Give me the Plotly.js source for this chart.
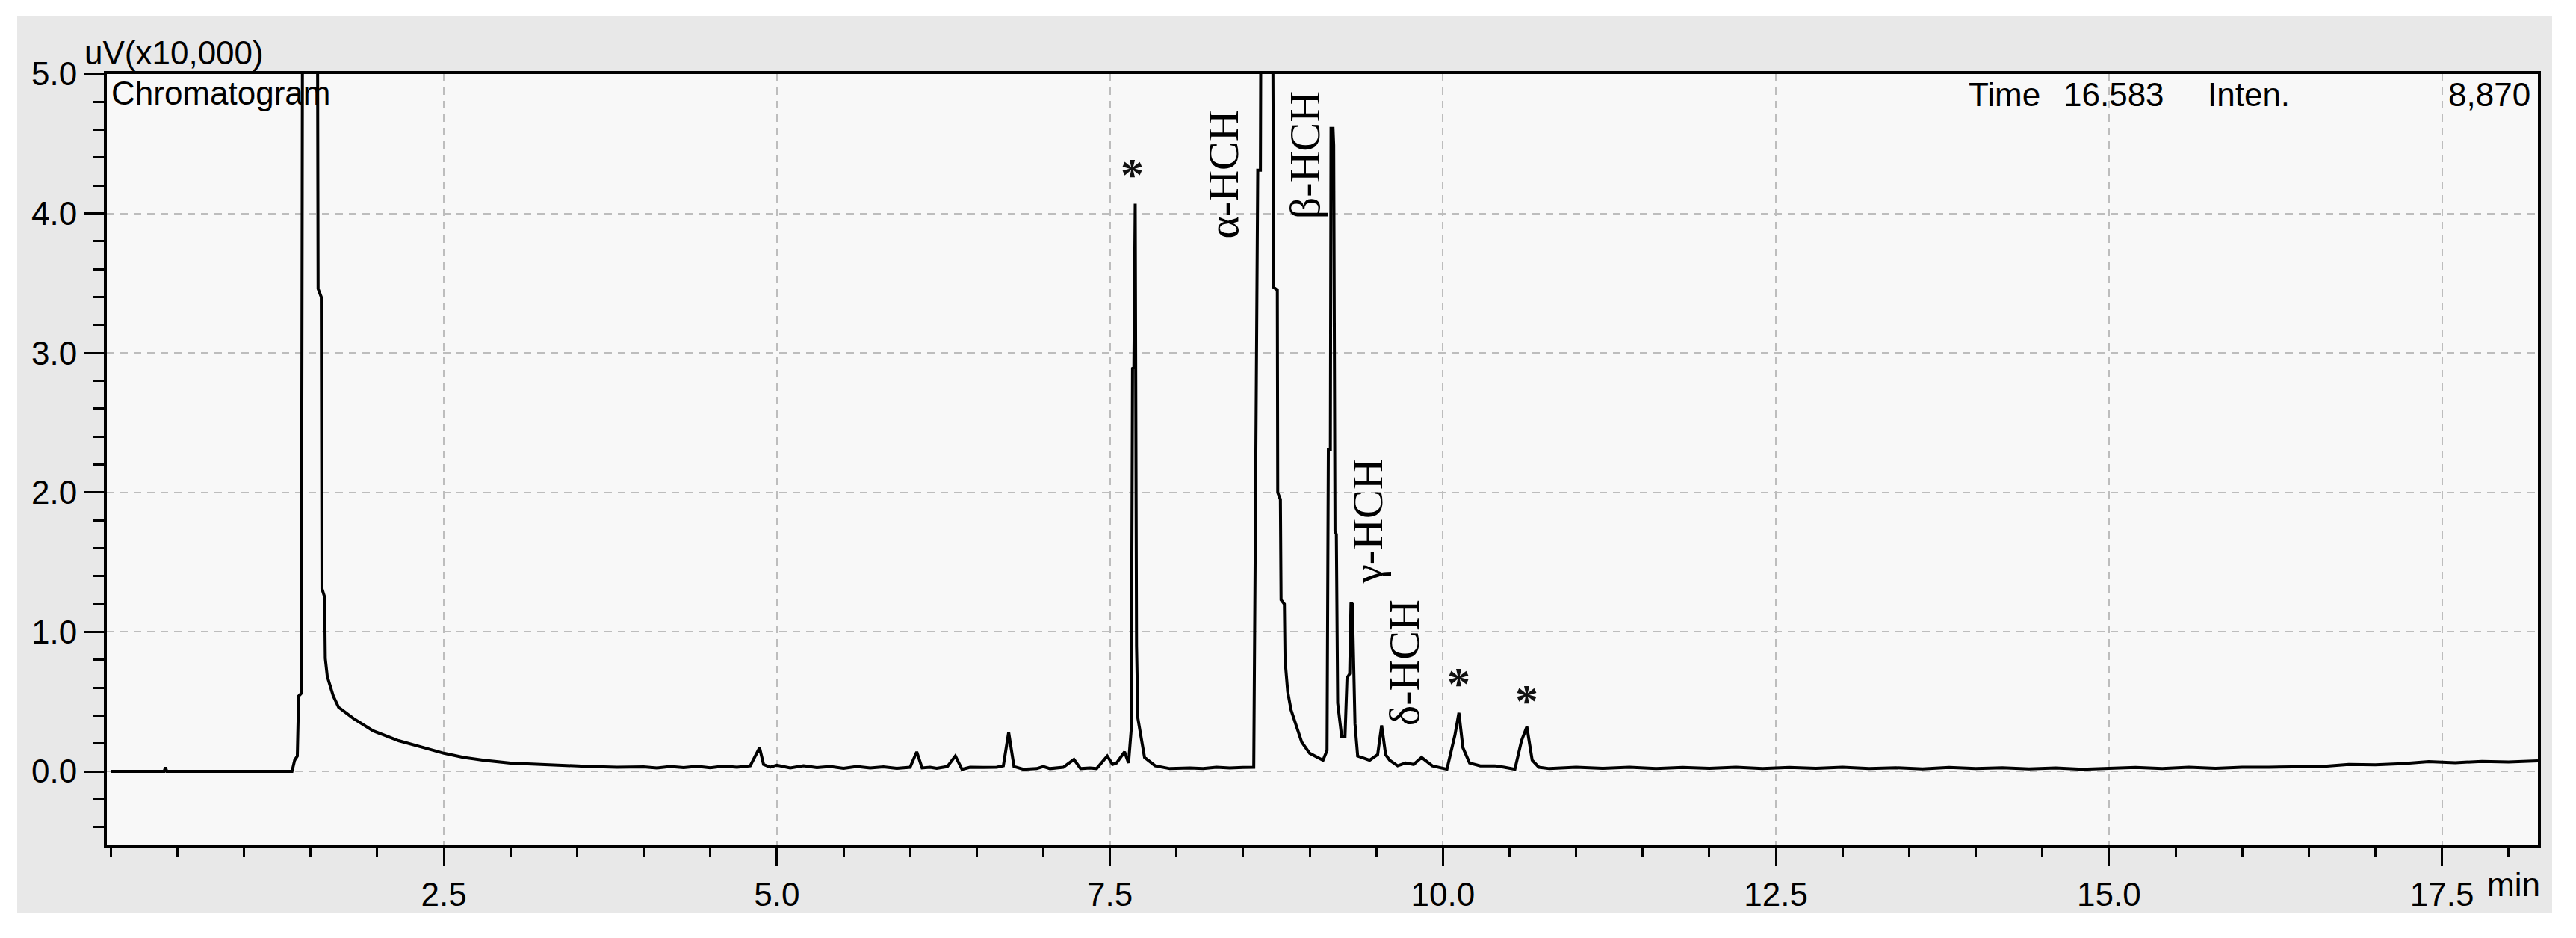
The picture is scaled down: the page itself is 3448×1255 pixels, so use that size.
<!DOCTYPE html>
<html>
<head>
<meta charset="utf-8">
<script src="https://cdn.plot.ly/plotly-3.0.1.min.js"></script>
<style>
  body { margin: 0; background: #ffffff; }
  #chart { position: absolute; left: 23px; top: 21px; width: 3393px; height: 1201px; }
</style>
</head>
<body>
<div id="chart"></div>
<script>
// retention time (min) and detector signal (uV x 10,000)
var retentionTime = [
  0.00, 0.40, 0.41, 0.42, 1.36, 1.38, 1.40, 1.41, 1.43, 1.44,
  1.55, 1.556, 1.58, 1.585, 1.605, 1.61, 1.625, 1.67, 1.71, 1.82,
  1.97, 2.16, 2.35, 2.50, 2.65, 2.80, 3.00, 3.20, 3.40, 3.60,
  3.80, 4.00, 4.10, 4.20, 4.30, 4.40, 4.50, 4.60, 4.70, 4.80,
  4.87, 4.90, 4.95, 5.00, 5.10, 5.20, 5.30, 5.40, 5.50, 5.60,
  5.70, 5.80, 5.90, 6.00, 6.05, 6.09, 6.15, 6.20, 6.28, 6.34,
  6.39, 6.45, 6.55, 6.65, 6.70, 6.74, 6.78, 6.85, 6.95, 7.00,
  7.05, 7.15, 7.23, 7.28, 7.35, 7.40, 7.48, 7.52, 7.55, 7.61,
  7.64, 7.66, 7.67, 7.68, 7.69, 7.70, 7.71, 7.76, 7.84, 7.95,
  8.10, 8.20, 8.30, 8.40, 8.50, 8.58, 8.61, 8.63, 8.635, 8.72,
  8.73, 8.757, 8.76, 8.78, 8.785, 8.81, 8.815, 8.835, 8.86, 8.94,
  9.00, 9.10, 9.13, 9.14, 9.155, 9.16, 9.175, 9.18, 9.19, 9.20,
  9.21, 9.24, 9.265, 9.28, 9.30, 9.31, 9.32, 9.34, 9.36, 9.45,
  9.51, 9.54, 9.57, 9.60, 9.66, 9.72, 9.78, 9.84, 9.92, 9.97,
  10.03, 10.09, 10.12, 10.15, 10.20, 10.28, 10.39, 10.46, 10.54, 10.59,
  10.63, 10.67, 10.72, 10.80, 11.00, 11.20, 11.40, 11.60, 11.80, 12.00,
  12.20, 12.40, 12.60, 12.80, 13.00, 13.20, 13.40, 13.60, 13.80, 14.00,
  14.20, 14.40, 14.60, 14.80, 15.00, 15.20, 15.40, 15.60, 15.80, 16.00,
  16.20, 16.40, 16.60, 16.80, 17.00, 17.20, 17.40, 17.60, 17.80, 18.00,
  18.22
];
var intensity = [
  0.000, 0.000, 0.030, 0.000, 0.000, 0.080, 0.110, 0.540, 0.560, 6.000,
  6.000, 3.460, 3.400, 1.310, 1.250, 0.810, 0.680, 0.540, 0.460, 0.380,
  0.290, 0.220, 0.170, 0.130, 0.100, 0.080, 0.060, 0.050, 0.045, 0.035,
  0.030, 0.032, 0.025, 0.035, 0.028, 0.036, 0.026, 0.038, 0.030, 0.040,
  0.170, 0.050, 0.030, 0.045, 0.025, 0.040, 0.028, 0.035, 0.022, 0.035,
  0.025, 0.032, 0.022, 0.030, 0.140, 0.025, 0.030, 0.022, 0.035, 0.110,
  0.015, 0.030, 0.028, 0.030, 0.040, 0.280, 0.035, 0.015, 0.020, 0.035,
  0.020, 0.030, 0.086, 0.020, 0.025, 0.020, 0.110, 0.050, 0.060, 0.140,
  0.060, 0.300, 2.890, 2.900, 4.070, 0.900, 0.380, 0.100, 0.040, 0.020,
  0.025, 0.020, 0.030, 0.025, 0.028, 0.030, 4.310, 4.310, 6.000, 6.000,
  3.470, 3.450, 2.000, 1.950, 1.230, 1.200, 0.800, 0.570, 0.440, 0.210,
  0.130, 0.080, 0.150, 2.310, 2.310, 4.610, 4.610, 4.490, 1.720, 1.700,
  0.490, 0.250, 0.250, 0.670, 0.700, 1.210, 1.200, 0.340, 0.110, 0.080,
  0.120, 0.330, 0.120, 0.080, 0.040, 0.060, 0.050, 0.100, 0.040, 0.030,
  0.016, 0.260, 0.420, 0.170, 0.060, 0.040, 0.040, 0.030, 0.015, 0.220,
  0.320, 0.080, 0.030, 0.020, 0.030, 0.022, 0.030, 0.020, 0.028, 0.022,
  0.030, 0.020, 0.028, 0.022, 0.030, 0.020, 0.026, 0.018, 0.028, 0.020,
  0.026, 0.018, 0.025, 0.015, 0.022, 0.028, 0.020, 0.030, 0.022, 0.030,
  0.030, 0.032, 0.035, 0.050, 0.048, 0.055, 0.070, 0.062, 0.072, 0.068,
  0.075
];

var xTickVals = [2.5, 5.0, 7.5, 10.0, 12.5, 15.0, 17.5];
var xTickText = ["2.5", "5.0", "7.5", "10.0", "12.5", "15.0", "17.5"];
var yTickVals = [0, 1, 2, 3, 4, 5];
var yTickText = ["0.0", "1.0", "2.0", "3.0", "4.0", "5.0"];

// peak names and where they sit
var peakNames = ["α-HCH", "β-HCH", "γ-HCH", "δ-HCH"];
var peakNameX = [8.35, 8.96, 9.43, 9.71];
var peakNameY = [4.28, 4.42, 1.79, 0.78];
var starX = [7.67, 10.12, 10.63];
var starY = [4.33, 0.68, 0.56];

var sans = "Liberation Sans, Arial, sans-serif";
var serif = "Liberation Serif, Times New Roman, serif";

var trace1 = {
  x: retentionTime,
  y: intensity,
  type: "scatter",
  mode: "lines",
  line: {color: "#000000", width: 4},
  hoverinfo: "skip"
};

var annotations = [];
peakNames.forEach(function(name, i) {
  annotations.push({
    x: peakNameX[i], y: peakNameY[i], xref: "x", yref: "y",
    text: name, showarrow: false, textangle: -90,
    xanchor: "center", yanchor: "middle",
    font: {family: serif, size: 58, color: "#000000"}
  });
});
// glyph sits high in its box, so shift the box down a little
starX.forEach(function(sx, i) {
  annotations.push({
    x: sx, y: starY[i], xref: "x", yref: "y",
    text: "<b>*</b>", showarrow: false,
    xanchor: "center", yanchor: "middle", yshift: -9,
    font: {family: serif, size: 62, color: "#111111"}
  });
});

// header texts inside / above the frame
var headTexts = ["uV(x10,000)", "Chromatogram", "Time", "16.583", "Inten.", "8,870"];
var headX = [-0.0098, 0.0012, 0.7652, 0.8043, 0.8636, 0.9975];
var headY = [1.028, 0.975, 0.973, 0.973, 0.973, 0.973];
var headAnchor = ["left", "left", "left", "left", "left", "right"];
headTexts.forEach(function(t, i) {
  annotations.push({
    x: headX[i], y: headY[i], xref: "paper", yref: "paper",
    text: t, showarrow: false, xanchor: headAnchor[i], yanchor: "middle",
    font: {family: sans, size: 44, color: "#000000"}
  });
});
annotations.push({
  x: 17.5, y: -0.051, xref: "x", yref: "paper",
  text: "min", showarrow: false, xanchor: "left", yanchor: "middle", xshift: 58,
  font: {family: sans, size: 44, color: "#000000"}
});

var data = [trace1];
var layout = {
  width: 3393,
  height: 1201,
  margin: {l: 120, r: 19, t: 78, b: 91},
  paper_bgcolor: "#e8e8e8",
  plot_bgcolor: "#f8f8f8",
  showlegend: false,
  font: {family: sans, size: 44, color: "#000000"},
  xaxis: {
    range: [-0.03, 18.22],
    tickvals: xTickVals,
    ticktext: xTickText,
    ticks: "outside", ticklen: 24, tickwidth: 3, tickcolor: "#000000",
    minor: {dtick: 0.5, tick0: 0, ticks: "outside", ticklen: 11, tickwidth: 3, tickcolor: "#000000", showgrid: false},
    showline: true, mirror: true, linecolor: "#000000", linewidth: 4,
    showgrid: true, gridcolor: "#bdbdbd", gridwidth: 2, griddash: "10px,8px",
    zeroline: false,
    tickfont: {family: sans, size: 44, color: "#000000"}
  },
  yaxis: {
    range: [-0.53, 5.0],
    tickvals: yTickVals,
    ticktext: yTickText,
    ticks: "outside", ticklen: 27, tickwidth: 3, tickcolor: "#000000",
    minor: {dtick: 0.2, tick0: 0, ticks: "outside", ticklen: 14, tickwidth: 3, tickcolor: "#000000", showgrid: false},
    showline: true, mirror: true, linecolor: "#000000", linewidth: 4,
    showgrid: true, gridcolor: "#bdbdbd", gridwidth: 2, griddash: "10px,8px",
    zeroline: false,
    tickfont: {family: sans, size: 44, color: "#000000"}
  },
  annotations: annotations
};

Plotly.newPlot("chart", data, layout, {displayModeBar: false, staticPlot: true});
</script>
</body>
</html>
